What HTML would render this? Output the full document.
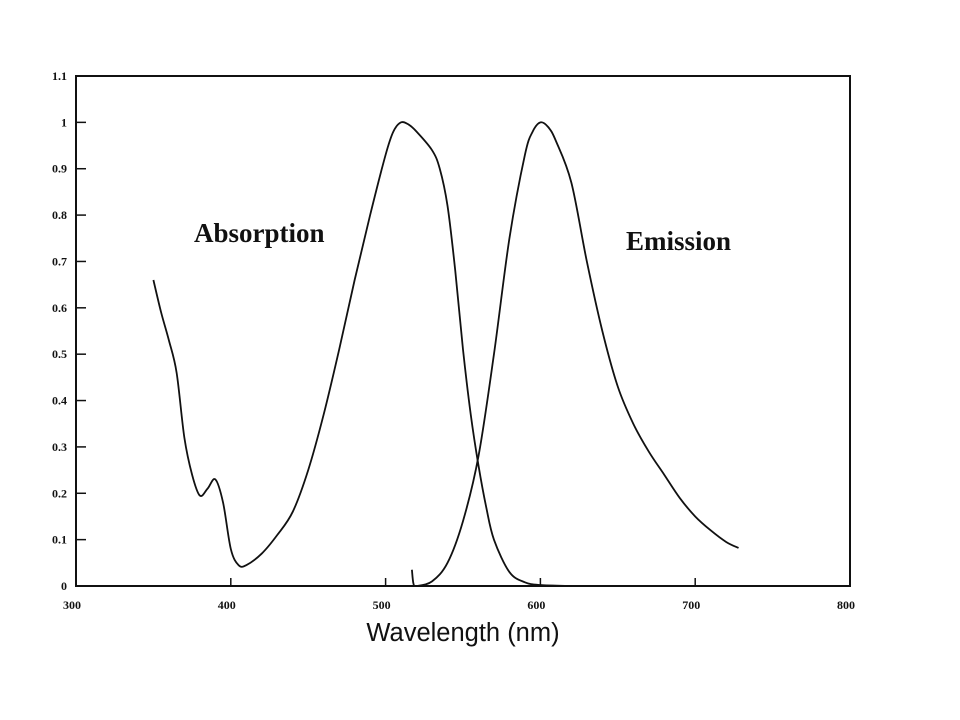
<!DOCTYPE html>
<html><head><meta charset="utf-8"><style>
body{margin:0;background:#fff;}
svg{display:block}
.tk{font-family:"Liberation Serif",serif;font-weight:bold;font-size:12px;fill:#111}
</style></head><body>
<svg id="chart" width="960" height="720" viewBox="0 0 960 720">
<rect x="76" y="76" width="774" height="510" fill="none" stroke="#111" stroke-width="2"/>
<g id="ticks"></g>
<text x="194" y="242" font-family="Liberation Serif,serif" font-weight="bold" font-size="27" fill="#111">Absorption</text>
<text x="626" y="250" font-family="Liberation Serif,serif" font-weight="bold" font-size="27" fill="#111">Emission</text>
<text x="463" y="641" text-anchor="middle" font-family="Liberation Sans,sans-serif" font-size="25.5" fill="#111">Wavelength (nm)</text>
<g id="series"></g>
</svg>
<script>
const xTicks=[300,400,500,600,700,800];
const yTicks=[0,0.1,0.2,0.3,0.4,0.5,0.6,0.7,0.8,0.9,1,1.1];
const absX=[350,355,360,365,370,375,380,385,390,395,400,405,410,420,430,440,450,460,470,480,490,500,505,510,515,520,530,535,540,545,550,555,560,565,570,580,590,600,620];
const absY=[0.66,0.59,0.53,0.46,0.32,0.24,0.195,0.21,0.23,0.18,0.08,0.045,0.045,0.07,0.11,0.16,0.25,0.37,0.51,0.66,0.80,0.93,0.98,1.0,0.995,0.98,0.94,0.90,0.82,0.68,0.51,0.37,0.26,0.17,0.10,0.03,0.008,0.002,0.0];
const emX=[517,518,520,530,540,550,560,570,580,590,595,600,605,610,620,630,640,650,660,670,680,690,700,710,720,728];
const emY=[0.035,0.005,0.0,0.01,0.05,0.14,0.28,0.50,0.75,0.93,0.98,1.0,0.99,0.96,0.87,0.70,0.55,0.43,0.35,0.29,0.24,0.19,0.15,0.12,0.095,0.082];
const ns="http://www.w3.org/2000/svg";
const sx=v=>76+(v-300)*774/500;
const sy=v=>586-v*510/1.1;
const tg=document.getElementById('ticks');
xTicks.forEach(t=>{
 if(t>300&&t<800){const l=document.createElementNS(ns,'line');
 
 
 l.setAttribute('x1',sx(t));l.setAttribute('x2',sx(t));l.setAttribute('y1',586);l.setAttribute('y2',578);l.setAttribute('stroke','#111');l.setAttribute('stroke-width','1.5');tg.appendChild(l);}
 const tx=document.createElementNS(ns,'text');
 
 
 tx.setAttribute('x',sx(t)-4);tx.setAttribute('y',609);tx.setAttribute('text-anchor','middle');tx.setAttribute('class','tk');tx.textContent=t;tg.appendChild(tx);
});
yTicks.forEach(t=>{
 if(t>0&&t<1.1){const l=document.createElementNS(ns,'line');
 
 
 l.setAttribute('x1',76);l.setAttribute('x2',86);l.setAttribute('y1',sy(t));l.setAttribute('y2',sy(t));l.setAttribute('stroke','#111');l.setAttribute('stroke-width','1.5');tg.appendChild(l);}
 const tx=document.createElementNS(ns,'text');
 
 
 tx.setAttribute('x',67);tx.setAttribute('y',sy(t)+4);tx.setAttribute('text-anchor','end');tx.setAttribute('class','tk');tx.textContent=String(t);tg.appendChild(tx);
});
function path(xs,ys){
 let pts=xs.map((x,i)=>[sx(x),sy(ys[i])]);
 let d='M'+pts[0][0]+','+pts[0][1];
 for(let i=0;i<pts.length-1;i++){
  const p0=pts[i-1]||pts[i],p1=pts[i],p2=pts[i+1],p3=pts[i+2]||p2;
  d+=' C'+(p1[0]+(p2[0]-p0[0])/6)+','+(p1[1]+(p2[1]-p0[1])/6)+' '+(p2[0]-(p3[0]-p1[0])/6)+','+(p2[1]-(p3[1]-p1[1])/6)+' '+p2[0]+','+p2[1];
 }
 return d;
}
const sg=document.getElementById('series');
const a=document.createElementNS(ns,'path');


a.setAttribute('d',path(absX,absY));a.setAttribute('fill','none');a.setAttribute('stroke','#111');a.setAttribute('stroke-width','1.8');sg.appendChild(a);
const e=document.createElementNS(ns,'path');


e.setAttribute('d',path(emX,emY));e.setAttribute('fill','none');e.setAttribute('stroke','#111');e.setAttribute('stroke-width','1.8');sg.appendChild(e);
</script>
</body></html>
